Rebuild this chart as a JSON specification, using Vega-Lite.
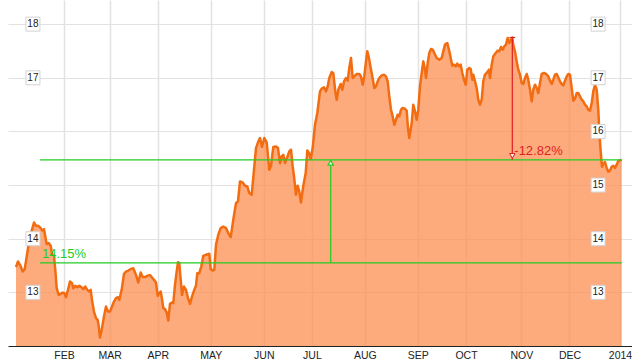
{
  "$schema": "https://vega.github.io/schema/vega-lite/v6.json",
  "width": 624,
  "height": 346,
  "padding": {"left": 8, "top": 0, "right": 0, "bottom": 0},
  "autosize": {"type": "pad"},
  "background": "white",
  "config": {"view": {"stroke": null}},
  "datasets": {
    "series": [
      {"d":1.06,"v":13.47},{"d":1.89,"v":13.575},{"d":2.72,"v":13.513},{"d":3.84,"v":13.388},{"d":4.67,"v":13.433},{"d":5.75,"v":13.731},{"d":6.58,"v":13.979},{"d":7.29,"v":14.104},{"d":8.54,"v":14.302},{"d":9.37,"v":14.241},{"d":10.32,"v":14.241},{"d":11.32,"v":14.198},{"d":11.99,"v":14.153},{"d":12.69,"v":14.179},{"d":13.23,"v":14.041},{"d":13.81,"v":13.899},{"d":14.64,"v":13.918},{"d":15.48,"v":13.868},{"d":16.02,"v":13.718},{"d":16.85,"v":13.681},{"d":17.39,"v":13.42},{"d":17.97,"v":13.078},{"d":18.8,"v":12.953},{"d":19.63,"v":12.972},{"d":20.46,"v":12.996},{"d":21.13,"v":12.985},{"d":21.83,"v":12.91},{"d":22.66,"v":13.047},{"d":23.49,"v":13.201},{"d":24.33,"v":13.172},{"d":24.87,"v":13.078},{"d":25.7,"v":13.121},{"d":26.53,"v":13.097},{"d":27.36,"v":13.121},{"d":28.19,"v":13.097},{"d":29.02,"v":13.06},{"d":29.85,"v":13.108},{"d":30.68,"v":13.047},{"d":31.51,"v":13.015},{"d":32.09,"v":13.047},{"d":32.63,"v":12.86},{"d":33.46,"v":12.642},{"d":34.3,"v":12.519},{"d":35.0,"v":12.487},{"d":35.42,"v":12.375},{"d":35.96,"v":12.157},{"d":36.66,"v":12.3},{"d":37.62,"v":12.549},{"d":38.45,"v":12.735},{"d":39.28,"v":12.642},{"d":40.12,"v":12.642},{"d":40.95,"v":12.735},{"d":41.78,"v":12.828},{"d":42.61,"v":12.892},{"d":43.44,"v":12.91},{"d":43.98,"v":12.86},{"d":44.97,"v":13.047},{"d":45.93,"v":13.345},{"d":46.76,"v":13.388},{"d":47.72,"v":13.407},{"d":48.71,"v":13.433},{"d":49.79,"v":13.451},{"d":50.91,"v":13.326},{"d":51.87,"v":13.183},{"d":52.87,"v":13.369},{"d":53.7,"v":13.284},{"d":54.65,"v":13.284},{"d":55.61,"v":13.308},{"d":56.73,"v":13.321},{"d":57.56,"v":13.276},{"d":58.39,"v":13.233},{"d":59.22,"v":13.183},{"d":59.93,"v":12.935},{"d":60.59,"v":12.985},{"d":61.18,"v":13.015},{"d":61.72,"v":12.873},{"d":62.26,"v":12.705},{"d":62.96,"v":12.687},{"d":63.67,"v":12.623},{"d":64.33,"v":12.474},{"d":65.04,"v":12.785},{"d":65.87,"v":12.81},{"d":66.41,"v":12.799},{"d":67.12,"v":13.14},{"d":67.82,"v":13.388},{"d":68.36,"v":13.563},{"d":68.9,"v":13.545},{"d":69.49,"v":13.233},{"d":70.02,"v":12.953},{"d":70.86,"v":13.108},{"d":71.69,"v":13.047},{"d":72.52,"v":12.892},{"d":73.35,"v":12.785},{"d":74.18,"v":12.922},{"d":75.01,"v":13.034},{"d":75.84,"v":13.121},{"d":76.38,"v":13.358},{"d":77.21,"v":13.358},{"d":78.04,"v":13.481},{"d":78.87,"v":13.681},{"d":79.87,"v":13.7},{"d":80.83,"v":13.713},{"d":81.37,"v":13.718},{"d":81.95,"v":13.433},{"d":82.78,"v":13.407},{"d":83.44,"v":13.42},{"d":84.15,"v":13.886},{"d":85.1,"v":14.073},{"d":86.1,"v":14.198},{"d":87.18,"v":14.228},{"d":88.31,"v":14.198},{"d":89.26,"v":14.104},{"d":90.26,"v":14.03},{"d":91.34,"v":14.353},{"d":92.46,"v":14.664},{"d":93.29,"v":14.694},{"d":94.12,"v":15.067},{"d":95.24,"v":15.049},{"d":96.2,"v":14.987},{"d":97.15,"v":14.974},{"d":97.98,"v":14.851},{"d":98.98,"v":14.819},{"d":99.94,"v":15.285},{"d":100.77,"v":15.69},{"d":101.73,"v":15.813},{"d":102.43,"v":15.877},{"d":103.26,"v":15.709},{"d":104.22,"v":15.877},{"d":105.21,"v":15.795},{"d":106.3,"v":15.285},{"d":107.0,"v":15.36},{"d":107.96,"v":15.709},{"d":109.08,"v":15.72},{"d":109.91,"v":15.69},{"d":110.74,"v":15.41},{"d":111.45,"v":15.534},{"d":112.11,"v":15.565},{"d":112.82,"v":15.41},{"d":113.77,"v":15.522},{"d":114.6,"v":15.627},{"d":115.31,"v":15.659},{"d":116.02,"v":15.347},{"d":116.56,"v":15.16},{"d":117.39,"v":14.819},{"d":118.09,"v":14.987},{"d":118.76,"v":14.881},{"d":119.46,"v":14.675},{"d":120.42,"v":14.987},{"d":121.42,"v":15.224},{"d":122.08,"v":15.646},{"d":122.79,"v":15.597},{"d":123.5,"v":15.485},{"d":124.32,"v":15.69},{"d":125.28,"v":16.125},{"d":126.24,"v":16.343},{"d":127.36,"v":16.746},{"d":128.06,"v":16.797},{"d":129.02,"v":16.821},{"d":129.85,"v":16.746},{"d":130.56,"v":16.84},{"d":131.22,"v":16.996},{"d":132.22,"v":17.108},{"d":132.88,"v":17.09},{"d":133.71,"v":16.746},{"d":134.3,"v":16.591},{"d":134.96,"v":16.778},{"d":135.96,"v":16.884},{"d":136.62,"v":16.778},{"d":137.33,"v":16.933},{"d":138.16,"v":16.996},{"d":138.87,"v":16.946},{"d":139.53,"v":17.183},{"d":140.24,"v":17.369},{"d":140.94,"v":16.996},{"d":141.61,"v":17.026},{"d":142.61,"v":17.071},{"d":143.69,"v":17.071},{"d":144.39,"v":17.026},{"d":145.1,"v":16.871},{"d":145.76,"v":17.026},{"d":146.47,"v":17.306},{"d":147.01,"v":17.493},{"d":147.71,"v":17.369},{"d":148.42,"v":17.183},{"d":149.09,"v":17.026},{"d":149.92,"v":16.81},{"d":150.62,"v":16.84},{"d":151.33,"v":16.933},{"d":152.0,"v":16.996},{"d":152.99,"v":17.045},{"d":153.95,"v":17.058},{"d":154.78,"v":17.026},{"d":155.49,"v":16.933},{"d":156.15,"v":16.653},{"d":156.85,"v":16.405},{"d":157.56,"v":16.28},{"d":158.22,"v":16.125},{"d":158.93,"v":16.218},{"d":159.64,"v":16.312},{"d":160.3,"v":16.28},{"d":161.01,"v":16.405},{"d":161.71,"v":16.437},{"d":162.67,"v":16.424},{"d":163.38,"v":16.386},{"d":163.92,"v":16.063},{"d":164.46,"v":15.877},{"d":165.45,"v":16.157},{"d":166.12,"v":16.498},{"d":166.82,"v":16.373},{"d":167.53,"v":16.218},{"d":168.19,"v":16.405},{"d":168.9,"v":16.84},{"d":169.61,"v":17.09},{"d":170.27,"v":17.306},{"d":170.98,"v":17.151},{"d":171.4,"v":16.996},{"d":172.1,"v":17.276},{"d":172.77,"v":17.463},{"d":173.47,"v":17.537},{"d":174.18,"v":17.524},{"d":174.85,"v":17.463},{"d":175.84,"v":17.369},{"d":176.92,"v":17.338},{"d":177.92,"v":17.369},{"d":178.59,"v":17.493},{"d":179.29,"v":17.618},{"d":180.24,"v":17.649},{"d":180.95,"v":17.524},{"d":181.66,"v":17.369},{"d":182.32,"v":17.226},{"d":183.03,"v":17.244},{"d":183.73,"v":17.213},{"d":184.4,"v":17.263},{"d":185.11,"v":17.213},{"d":185.81,"v":17.244},{"d":186.48,"v":17.09},{"d":187.18,"v":16.965},{"d":187.89,"v":16.871},{"d":188.55,"v":17.151},{"d":189.39,"v":17.183},{"d":189.97,"v":17.164},{"d":190.63,"v":16.965},{"d":191.05,"v":17.058},{"d":191.75,"v":16.933},{"d":192.46,"v":16.81},{"d":193.12,"v":16.591},{"d":193.83,"v":16.498},{"d":194.54,"v":16.591},{"d":195.2,"v":16.933},{"d":195.91,"v":17.058},{"d":196.61,"v":17.09},{"d":197.57,"v":17.151},{"d":197.99,"v":16.996},{"d":198.69,"v":17.244},{"d":199.36,"v":17.399},{"d":200.35,"v":17.463},{"d":201.18,"v":17.506},{"d":201.85,"v":17.493},{"d":202.55,"v":17.575},{"d":203.26,"v":17.524},{"d":203.93,"v":17.586},{"d":204.63,"v":17.618},{"d":205.34,"v":17.743},{"d":206.0,"v":17.649},{"d":206.71,"v":17.711},{"d":207.25,"v":17.752},{"d":207.67,"v":17.604},{"d":208.37,"v":17.493},{"d":209.08,"v":17.306},{"d":209.75,"v":17.151},{"d":210.45,"v":17.058},{"d":211.16,"v":16.903},{"d":211.82,"v":16.884},{"d":212.53,"v":16.996},{"d":213.24,"v":17.071},{"d":213.9,"v":16.965},{"d":214.61,"v":16.778},{"d":215.31,"v":16.56},{"d":215.98,"v":16.778},{"d":216.68,"v":16.871},{"d":217.39,"v":16.81},{"d":218.05,"v":16.716},{"d":218.76,"v":16.903},{"d":219.46,"v":17.071},{"d":220.42,"v":17.09},{"d":221.25,"v":17.071},{"d":222.21,"v":17.026},{"d":222.92,"v":16.946},{"d":223.62,"v":16.884},{"d":224.29,"v":16.965},{"d":224.99,"v":17.058},{"d":225.7,"v":17.071},{"d":226.36,"v":17.007},{"d":227.07,"v":16.933},{"d":227.77,"v":16.884},{"d":228.44,"v":16.858},{"d":229.15,"v":16.946},{"d":229.85,"v":17.026},{"d":230.52,"v":17.071},{"d":231.22,"v":17.058},{"d":231.93,"v":16.81},{"d":232.59,"v":16.573},{"d":233.3,"v":16.61},{"d":234.0,"v":16.716},{"d":234.67,"v":16.716},{"d":235.38,"v":16.653},{"d":236.08,"v":16.591},{"d":236.75,"v":16.56},{"d":237.45,"v":16.498},{"d":238.16,"v":16.466},{"d":238.82,"v":16.405},{"d":239.53,"v":16.386},{"d":240.24,"v":16.53},{"d":240.9,"v":16.746},{"d":241.61,"v":16.871},{"d":242.31,"v":16.778},{"d":242.98,"v":16.405},{"d":243.39,"v":16.0},{"d":243.97,"v":15.627},{"d":244.51,"v":15.34},{"d":245.05,"v":15.4},{"d":245.76,"v":15.43},{"d":246.46,"v":15.32},{"d":247.13,"v":15.25},{"d":247.84,"v":15.27},{"d":248.54,"v":15.34},{"d":249.21,"v":15.36},{"d":249.91,"v":15.32},{"d":250.62,"v":15.38},{"d":251.28,"v":15.45},{"d":251.99,"v":15.46},{"d":252.7,"v":15.47}
    ],
    "levels": [
      {"level": 13.55, "start": 11, "end": 252.7},
      {"level": 15.47, "start": 11, "end": 252.7}
    ],
    "moves": [
      {"move": "gain", "day": 131.8, "from": 13.55, "to": 15.47},
      {"move": "drop", "day": 207.25, "from": 17.752, "to": 15.47}
    ],
    "notes": [
      {"move": "gain", "day": 11, "level": 13.55, "label": "14.15%"},
      {"move": "drop", "day": 207.25, "level": 15.47, "label": "-12.82%"}
    ],
    "yticks": [
      {"value": 13, "side": "both"}, {"value": 14, "side": "both"},
      {"value": 15, "side": "right"}, {"value": 16, "side": "right"},
      {"value": 17, "side": "both"}, {"value": 18, "side": "both"}
    ]
  },
  "layer": [
    {
      "data": {"name": "series"},
      "mark": {"type": "area", "fill": "#fc8f52", "fillOpacity": 0.75, "interpolate": "linear"},
      "encoding": {
        "x": {"field": "d", "type": "quantitative",
          "scale": {"domain": [-2.26, 256.98], "nice": false, "zero": false},
          "axis": {"values": [21,40,60,82,104,124,146,168,188,211,231,252],
            "labelExpr": "['FEB','MAR','APR','MAY','JUN','JUL','AUG','SEP','OCT','NOV','DEC','2014'][indexof([21,40,60,82,104,124,146,168,188,211,231,252], datum.value)]",
            "grid": true, "gridColor": "#e2e2e2", "gridWidth": 1.5,
            "ticks": false, "tickSize": 0, "labelPadding": 4,
            "domainColor": "#222222", "domainWidth": 1,
            "labelFont": "Liberation Sans", "labelFontSize": 10.5, "labelColor": "#222222",
            "labelOverlap": false, "labelFlush": false, "title": null}},
        "y": {"field": "v", "type": "quantitative",
          "scale": {"domain": [12, 18.45], "nice": false, "zero": false},
          "axis": {"values": [13,14,15,16,17,18], "grid": true, "gridColor": "#e2e2e2", "gridWidth": 1.2,
            "labels": false, "ticks": false, "domain": false, "title": null, "minExtent": 0, "maxExtent": 0}},
        "y2": {"datum": 12}
      }
    },
    {
      "data": {"name": "series"},
      "mark": {"type": "line", "color": "#f26c12", "strokeWidth": 2.5, "strokeJoin": "round"},
      "encoding": {
        "x": {"field": "d", "type": "quantitative"},
        "y": {"field": "v", "type": "quantitative"}
      }
    },
    {
      "data": {"name": "levels"},
      "mark": {"type": "rule", "color": "#22cc22", "strokeWidth": 1.2},
      "encoding": {
        "x": {"field": "start", "type": "quantitative"},
        "x2": {"field": "end"},
        "y": {"field": "level", "type": "quantitative"}
      }
    },
    {
      "data": {"name": "moves"},
      "mark": {"type": "rule", "strokeWidth": 1.2},
      "encoding": {
        "x": {"field": "day", "type": "quantitative"},
        "y": {"field": "from", "type": "quantitative"},
        "y2": {"field": "to"},
        "color": {"field": "move", "type": "nominal", "scale": {"domain": ["gain", "drop"], "range": ["#22cc22", "#dd1f1f"]}, "legend": null}
      }
    },
    {
      "data": {"name": "moves"},
      "transform": [{"filter": "datum.move == 'gain'"}],
      "mark": {"type": "point", "shape": "triangle-up", "filled": true, "fill": "white", "stroke": "#22cc22", "strokeWidth": 1.2, "size": 28, "opacity": 1, "yOffset": 3},
      "encoding": {
        "x": {"field": "day", "type": "quantitative"},
        "y": {"field": "to", "type": "quantitative"}
      }
    },
    {
      "data": {"name": "moves"},
      "transform": [{"filter": "datum.move == 'drop'"}],
      "mark": {"type": "point", "shape": "triangle-down", "filled": true, "fill": "white", "stroke": "#dd1f1f", "strokeWidth": 1, "size": 28, "opacity": 1, "yOffset": -4},
      "encoding": {
        "x": {"field": "day", "type": "quantitative"},
        "y": {"field": "to", "type": "quantitative"}
      }
    },
    {
      "data": {"name": "moves"},
      "transform": [{"filter": "datum.move == 'drop'"}],
      "mark": {"type": "point", "shape": "M-1,0L1,0", "filled": false, "stroke": "#dd1f1f", "strokeWidth": 1, "size": 36, "opacity": 1},
      "encoding": {
        "x": {"field": "day", "type": "quantitative"},
        "y": {"field": "from", "type": "quantitative"}
      }
    },
    {
      "data": {"name": "notes"},
      "mark": {"type": "text", "align": "left", "baseline": "alphabetic", "dx": 2, "dy": -5, "font": "Liberation Sans", "fontSize": 13},
      "encoding": {
        "x": {"field": "day", "type": "quantitative"},
        "y": {"field": "level", "type": "quantitative"},
        "text": {"field": "label"},
        "color": {"field": "move", "type": "nominal", "scale": {"domain": ["gain", "drop"], "range": ["#22cc22", "#dd1f1f"]}, "legend": null}
      }
    },
    {
      "data": {"name": "yticks"},
      "transform": [{"filter": "datum.side == 'both'"}],
      "mark": {"type": "point", "shape": "square", "filled": true, "fill": "white", "stroke": "#d2d2d2", "strokeWidth": 1, "size": 196, "opacity": 1},
      "encoding": {
        "x": {"datum": 8.1},
        "y": {"field": "value", "type": "quantitative"}
      }
    },
    {
      "data": {"name": "yticks"},
      "transform": [{"filter": "datum.side == 'both'"}],
      "mark": {"type": "text", "font": "Liberation Sans", "fontSize": 10, "color": "#222222", "baseline": "middle"},
      "encoding": {
        "x": {"datum": 8.1},
        "y": {"field": "value", "type": "quantitative"},
        "text": {"field": "value"}
      }
    },
    {
      "data": {"name": "yticks"},
      "mark": {"type": "point", "shape": "square", "filled": true, "fill": "white", "stroke": "#d2d2d2", "strokeWidth": 1, "size": 196, "opacity": 1},
      "encoding": {
        "x": {"datum": 242.9},
        "y": {"field": "value", "type": "quantitative"}
      }
    },
    {
      "data": {"name": "yticks"},
      "mark": {"type": "text", "font": "Liberation Sans", "fontSize": 10, "color": "#222222", "baseline": "middle"},
      "encoding": {
        "x": {"datum": 242.9},
        "y": {"field": "value", "type": "quantitative"},
        "text": {"field": "value"}
      }
    }
  ]
}
